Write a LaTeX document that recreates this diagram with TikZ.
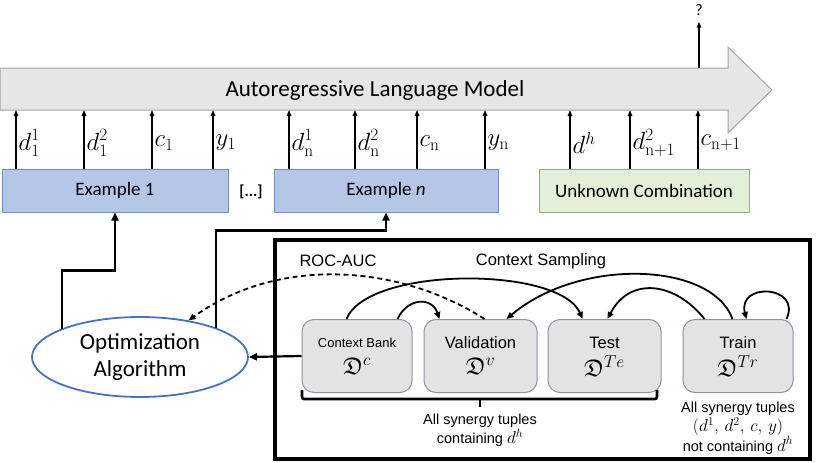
\documentclass[tikz,border=0pt]{standalone}
\usepackage{amssymb}
\usepackage[no-math]{fontspec}
\setmainfont{Carlito}
\newfontfamily\arialf{Liberation Sans}
\usetikzlibrary{arrows.meta,shapes.geometric,calc}
\DeclareMathSizes{24}{24}{18}{14}
\DeclareMathSizes{16}{16}{12}{9}
\definecolor{lmfill}{HTML}{E7E6E6}
\definecolor{lmdraw}{HTML}{A5A5A5}
\definecolor{exfill}{HTML}{B4C7E7}
\definecolor{exdraw}{HTML}{6E8FCB}
\definecolor{unfill}{HTML}{E2F0D9}
\definecolor{undraw}{HTML}{93A88C}
\definecolor{bxfill}{HTML}{E3E3E3}
\definecolor{bxdraw}{HTML}{8A96A5}
\definecolor{elldraw}{HTML}{4472C4}
\tikzset{
  exbox/.style={draw=exdraw, fill=exfill, line width=1, minimum height=43, inner sep=0, font=\fontsize{19}{22}\selectfont},
  unbox/.style={draw=undraw, fill=unfill, line width=1, minimum height=43, inner sep=0, font=\fontsize{19}{22}\selectfont},
  dbox/.style={draw=bxdraw, fill=bxfill, rounded corners=12, line width=1, minimum height=73, inner sep=0},
  uparr/.style={line width=1.4, -{Triangle[length=6,width=4.5]}},
  thkarr/.style={line width=2.2, -{Triangle[length=8,width=7]}},
  curvarr/.style={line width=1.8, -{Triangle[length=7,width=6]}},
  lab/.style={anchor=west, inner sep=0, font=\fontsize{24}{28}\selectfont},
  atxt/.style={font=\arialf\fontsize{16.5}{20}\selectfont, inner sep=0},
  stxt/.style={font=\arialf\fontsize{14.5}{19.5}\selectfont, inner sep=0, align=center},
  frak/.style={inner sep=0, font=\fontsize{24}{28}\selectfont},
}
\begin{document}
\begin{tikzpicture}[x=1pt,y=-1pt]
\useasboundingbox (0,0) rectangle (830,463);
% language model arrow
\draw[draw=lmdraw, fill=lmfill, line width=1] (0,68) -- (728,68) -- (728,47) -- (772,90) -- (728,133) -- (728,110) -- (0,110) -- cycle;
\node[font=\fontsize{23}{27}\selectfont, inner sep=0] (lm) at (375,90) {Autoregressive Language Model};
\coordinate (lmb) at (0,110);
\coordinate (lmt) at (0,68);
% output
\node[font=\fontsize{16}{18}\selectfont, inner sep=0] (q) at (699,10) {?};
\coordinate (qx) at (699,0);
\draw[uparr] (qx |- lmt) -- ($(q.south)+(0,6)$);
% example boxes
\node[exbox, minimum width=226] (ex1) at (115,190.5) {Example 1};
\node[exbox, minimum width=224] (exn) at (386,190.5) {Example \textit{n}};
\node[unbox, minimum width=210] (unk) at (644,190.5) {Unknown Combination};
\node[font=\bfseries\fontsize{16}{18}\selectfont, inner sep=0] (dots) at (251,192) {[...]};
% input arrows and labels
\foreach \x/\lb/\bx [count=\i] in {16/{d^1_1}/ex1, 84/{d^2_1}/ex1, 152/{c_1}/ex1, 213/{y_1}/ex1,
  289/{d^1_{\mathrm{n}}}/exn, 355/{d^2_{\mathrm{n}}}/exn, 417/{c_{\mathrm{n}}}/exn, 485/{y_{\mathrm{n}}}/exn,
  570/{d^h}/unk, 630/{d^2_{\mathrm{n}+1}}/unk, 698/{c_{\mathrm{n}+1}}/unk}{
  \coordinate (u\i) at (\x,0);
  \draw[uparr] (u\i |- \bx.north) -- (u\i |- lmb);
  \node[lab] (l\i) at ($(u\i |- lmb)+(2.5,33)$) {$\lb$};
}
% optimization ellipse
\node[ellipse, draw=elldraw, line width=1.8, fill=white, minimum width=216, minimum height=80, inner sep=0, align=center, font=\fontsize{23}{27}\selectfont] (opt) at (140,357) {Optimization\\Algorithm};
\draw[thkarr] (opt.160) |- ($(ex1.south)+(0,58)$) -- (ex1.south);
\draw[thkarr] (opt.21) |- ($(exn.south)+(0,18)$) -- (exn.south);
% big frame
\draw[line width=4] (275,240) rectangle (810,459);
% data boxes
\node[dbox, minimum width=110] (cb) at (357,356) {};
\node[dbox, minimum width=113] (val) at (480.5,356) {};
\node[dbox, minimum width=113] (test) at (604.5,356) {};
\node[dbox, minimum width=110] (train) at (738,356) {};
\node[font=\arialf\fontsize{13}{16}\selectfont, inner sep=0] (cbt) at ($(cb.north)+(0,24)$) {Context Bank};
\node[frak] (cbd) at ($(cb.north)+(0,47)$) {$\mathfrak{D}^c$};
\node[atxt] (valt) at ($(val.north)+(0,24)$) {Validation};
\node[frak] (vald) at ($(val.north)+(0,47)$) {$\mathfrak{D}^v$};
\node[atxt] (testt) at ($(test.north)+(0,24)$) {Test};
\node[frak] (testd) at ($(test.north)+(0,47)$) {$\mathfrak{D}^{Te}$};
\node[atxt] (traint) at ($(train.north)+(0,24)$) {Train};
\node[frak] (traind) at ($(train.north)+(0,47)$) {$\mathfrak{D}^{Tr}$};
% arrow to optimization
\draw[thkarr] (cb.west) -- (opt.east);
% labels
\node[atxt] (roc) at (338,261) {ROC-AUC};
\node[atxt] (cs) at (541,261) {Context Sampling};
% curves
\coordinate (cbA) at ($(cb.north west)+(45,0)$);
\coordinate (cbB) at ($(cb.north west)+(96,0)$);
\coordinate (valA) at ($(val.north west)+(16,0)$);
\coordinate (valB) at ($(val.north west)+(61,0)$);
\coordinate (valC) at ($(val.north west)+(83,0)$);
\coordinate (testA) at ($(test.north west)+(35,0)$);
\coordinate (testB) at ($(test.north west)+(60,0)$);
\coordinate (trA) at ($(train.north west)+(22,0)$);
\coordinate (trB) at ($(train.north west)+(50,0)$);
\coordinate (trC) at ($(train.north west)+(64,0)$);
\coordinate (trD) at ($(train.north west)+(104,0)$);
\draw[curvarr] (cbA) .. controls (368,266) and (560,266) .. (testA);
\draw[curvarr] (cbB) .. controls (408,297) and (432,297) .. (valA);
\draw[curvarr] (trB) .. controls (712,262) and (580,257) .. (valC);
\draw[curvarr] (trA) .. controls (675,282) and (630,276) .. (testB);
\draw[curvarr] (trD) .. controls (802,285) and (737,282) .. (trC);
\draw[line width=1.8, dash pattern=on 5 off 3.5, -{Triangle[length=7,width=6]}] (valB) .. controls (400,265) and (280,255) .. (opt.37);
% bracket
\draw[line width=2.6, rounded corners=2] (302,390) -- (302,399) -- (657,399) -- (657,390);
\coordinate (brc) at (480,399);
\draw[line width=2.6] (brc) -- ++(0,8);
\node[stxt] (bt) at (480,430) {All synergy tuples\\containing {\fontsize{16}{19}\selectfont$d^h$}};
\node[stxt] (tt) at (738,428) {All synergy tuples\\{\fontsize{16}{19}\selectfont$(d^1,\,d^2,\,c,\,y)$}\\not containing {\fontsize{16}{19}\selectfont$d^h$}};
\end{tikzpicture}
\end{document}
